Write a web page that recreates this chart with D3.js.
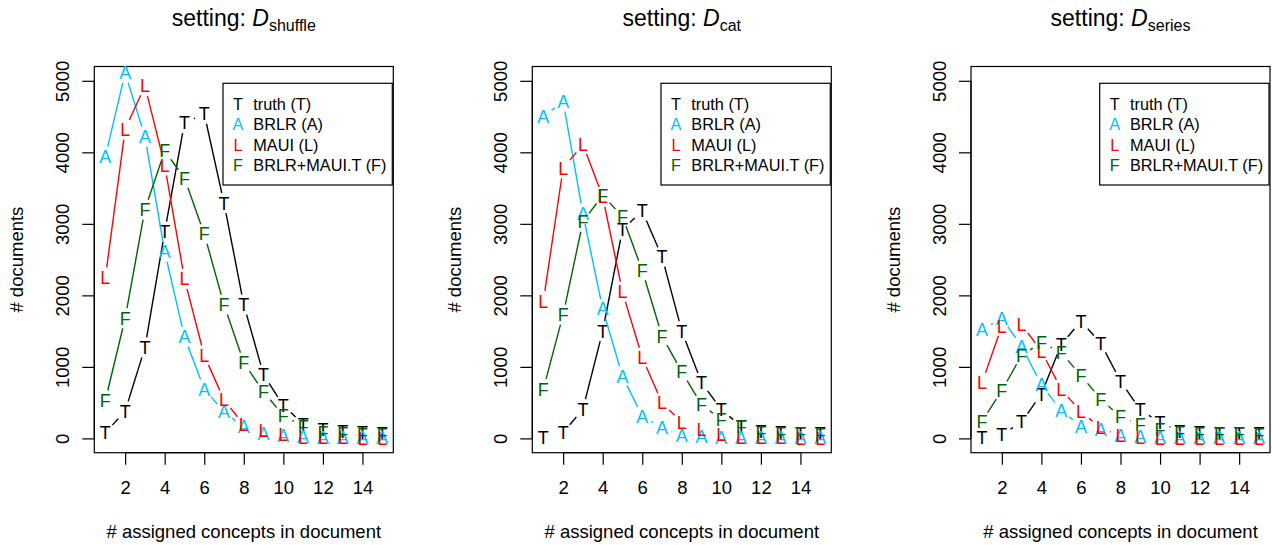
<!DOCTYPE html>
<html>
<head>
<meta charset="utf-8">
<script src="https://cdn.jsdelivr.net/npm/d3@7"></script>
<style>
  body { margin: 0; background: #fff; }
  text { font-family: "Liberation Sans", Arial, Helvetica, sans-serif; fill: #000; white-space: pre; }
</style>
</head>
<body>
<svg id="chart" width="1272" height="545"></svg>
<script>
// Number of assigned concepts per document (x values)
const conceptCounts = [1, 2, 3, 4, 5, 6, 7, 8, 9, 10, 11, 12, 13, 14, 15];

// Settings shown in the three panels (subscript of D)
const settings = ["shuffle", "cat", "series"];

// Document counts per setting: truth, BRLR, MAUI, BRLR+MAUI.T
const shuffleTruth    = [80, 380, 1270, 2890, 4410, 4540, 3290, 1870, 890, 460, 200, 130, 100, 85, 75];
const shuffleBRLR     = [3940, 5110, 4220, 2610, 1420, 690, 370, 160, 70, 35, 20, 15, 12, 10, 10];
const shuffleMAUI     = [2250, 4320, 4930, 3820, 2230, 1160, 540, 190, 110, 55, 15, 10, 8, 5, 5];
const shuffleCombined = [530, 1680, 3200, 4020, 3640, 2860, 1870, 1060, 650, 320, 170, 85, 65, 55, 50];

const catTruth    = [15, 80, 410, 1500, 2920, 3180, 2540, 1500, 780, 400, 170, 90, 80, 75, 70];
const catBRLR     = [4500, 4710, 3140, 1810, 870, 310, 150, 35, 20, 15, 12, 10, 10, 8, 8];
const catMAUI     = [1920, 3780, 4110, 3380, 2050, 1130, 500, 220, 125, 55, 10, 8, 6, 5, 5];
const catCombined = [690, 1730, 3030, 3400, 3100, 2350, 1430, 930, 470, 265, 170, 80, 70, 65, 60];

const seriesTruth    = [10, 50, 230, 620, 1310, 1640, 1330, 800, 400, 220, 100, 80, 75, 70, 65];
const seriesBRLR     = [1520, 1680, 1290, 750, 390, 170, 125, 40, 20, 15, 12, 10, 10, 8, 8];
const seriesMAUI     = [780, 1570, 1590, 1220, 690, 370, 150, 40, 8, 5, 5, 5, 5, 5, 5];
const seriesCombined = [240, 670, 1160, 1340, 1200, 880, 550, 300, 195, 125, 80, 75, 70, 65, 60];

// Legend entries, plotting symbols and colours
const seriesNames   = ["truth (T)", "BRLR (A)", "MAUI (L)", "BRLR+MAUI.T (F)"];
const seriesSymbols = ["T", "A", "L", "F"];
const seriesColors  = ["#000000", "#00BFFF", "#FF0000", "#006400"];

// Axis ticks
const xTicks = [2, 4, 6, 8, 10, 12, 14];
const yTicks = [0, 1000, 2000, 3000, 4000, 5000];

const panelData = [
  [shuffleTruth, shuffleBRLR, shuffleMAUI, shuffleCombined],
  [catTruth, catBRLR, catMAUI, catCombined],
  [seriesTruth, seriesBRLR, seriesMAUI, seriesCombined]
];

// Layout of the plotting regions
const panelLefts = [94.3, 532.3, 971];
const plotW = 299;
const plotTop = 66.5, plotBottom = 452.7;
const baseSize = 18.5, legendSize = 16.3, symbolSize = 18, titleSize = 23, subSize = 16;
const gap = 10.3; // line gap around each symbol (type = "b")

const svg = d3.select("#chart");

function gappedSegments(pts, g) {
  const segs = [];
  for (let i = 1; i < pts.length; i++) {
    const [x0, y0] = pts[i - 1], [x1, y1] = pts[i];
    const len = Math.hypot(x1 - x0, y1 - y0);
    if (len > 2 * g) {
      const f = g / len;
      segs.push([x0 + f * (x1 - x0), y0 + f * (y1 - y0), x1 - f * (x1 - x0), y1 - f * (y1 - y0)]);
    }
  }
  return segs;
}

settings.forEach((setting, p) => {
  const left = panelLefts[p];
  const right = left + plotW;
  const cx = (left + right) / 2;

  const x = d3.scaleLinear().domain([0.44, 15.56]).range([left, right]);
  const y = d3.scaleLinear().domain([-200, 5200]).range([plotBottom, plotTop]);

  const g = svg.append("g");

  // x axis
  const xAxis = g.append("g")
    .attr("transform", `translate(0,${plotBottom})`)
    .call(d3.axisBottom(x).tickValues(xTicks).tickSize(12).tickPadding(20).tickFormat(d3.format("d")));
  xAxis.select(".domain").attr("d", `M${x(2)},0H${x(14)}`).attr("stroke-width", 1.2);
  xAxis.selectAll(".tick line").attr("stroke-width", 1.2);
  xAxis.selectAll(".tick text").attr("y", 0).attr("dy", null)
    .attr("transform", "translate(0,41.3)")
    .style("font-size", baseSize + "px").style("font-family", "Liberation Sans, Arial, sans-serif");

  // y axis
  const yAxis = g.append("g")
    .attr("transform", `translate(${left},0)`)
    .call(d3.axisLeft(y).tickValues(yTicks).tickSize(12).tickFormat(d3.format("d")));
  yAxis.select(".domain").attr("d", `M0,${y(0)}V${y(5000)}`).attr("stroke-width", 1.2);
  yAxis.selectAll(".tick line").attr("stroke-width", 1.2);
  yAxis.selectAll(".tick text")
    .attr("x", null).attr("dy", null).attr("y", null)
    .attr("text-anchor", "middle")
    .attr("transform", "translate(-25.5,0) rotate(-90)")
    .style("font-size", baseSize + "px").style("font-family", "Liberation Sans, Arial, sans-serif");

  // plot frame
  g.append("rect")
    .attr("x", left).attr("y", plotTop)
    .attr("width", plotW).attr("height", plotBottom - plotTop)
    .attr("fill", "none").attr("stroke", "#000").attr("stroke-width", 1.2);

  // series: gapped connecting lines, then symbols
  panelData[p].forEach((vals, s) => {
    const pts = vals.map((v, i) => [x(conceptCounts[i]), y(v)]);
    const sg = g.append("g");
    sg.selectAll("line").data(gappedSegments(pts, gap)).join("line")
      .attr("x1", d => d[0]).attr("y1", d => d[1])
      .attr("x2", d => d[2]).attr("y2", d => d[3])
      .attr("stroke", seriesColors[s]).attr("stroke-width", 1.4);
    sg.selectAll("text").data(vals).join("text")
      .attr("x", (d, i) => x(conceptCounts[i]))
      .attr("y", d => y(d))
      .attr("dy", "0.36em")
      .attr("text-anchor", "middle")
      .style("font-size", symbolSize + "px")
      .style("fill", seriesColors[s])
      .text(seriesSymbols[s]);
  });

  // legend
  const lgLeft = right - 170.3, lgTop = plotTop + 16.8;
  g.append("rect")
    .attr("x", lgLeft).attr("y", lgTop)
    .attr("width", 169.3).attr("height", 101.7)
    .attr("fill", "#fff").attr("stroke", "#000").attr("stroke-width", 1.2);
  seriesNames.forEach((name, s) => {
    const ry = lgTop + 20.7 + s * 20.4;
    g.append("text")
      .attr("x", lgLeft + 15).attr("y", ry).attr("dy", "0.36em")
      .attr("text-anchor", "middle")
      .style("font-size", legendSize + "px").style("fill", seriesColors[s])
      .text(seriesSymbols[s]);
    g.append("text")
      .attr("x", lgLeft + 30.3).attr("y", ry).attr("dy", "0.36em")
      .style("font-size", legendSize + "px")
      .text(name);
  });

  // axis titles
  g.append("text")
    .attr("x", cx).attr("y", 538)
    .attr("text-anchor", "middle")
    .style("font-size", baseSize + "px")
    .text("# assigned concepts in document");
  g.append("text")
    .attr("transform", `translate(${left - 71.3},${(plotTop + plotBottom) / 2}) rotate(-90)`)
    .attr("text-anchor", "middle")
    .style("font-size", baseSize + "px")
    .text("# documents");

  // panel title
  const t = g.append("text")
    .attr("x", cx).attr("y", 26)
    .attr("text-anchor", "middle")
    .style("font-size", titleSize + "px");
  t.append("tspan").text("setting: ");
  t.append("tspan").style("font-style", "italic").text("D");
  t.append("tspan").attr("dy", 5).style("font-size", subSize + "px").text(setting);
});
</script>
</body>
</html>
